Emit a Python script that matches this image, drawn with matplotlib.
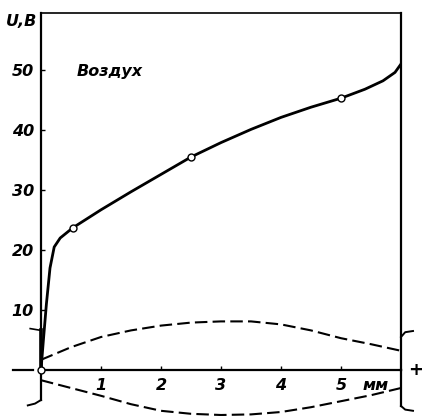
import matplotlib
matplotlib.use('Agg')
import matplotlib.pyplot as plt

# main curve U(d), air gap
d = [0, 0.04, 0.09, 0.15, 0.22, 0.32, 0.53, 1.0, 1.5, 2.0, 2.5, 3.0, 3.5, 4.0, 4.5, 5.0, 5.4, 5.7, 5.9, 6.0]
U = [0, 5, 11, 17, 20.5, 22, 23.7, 26.7, 29.7, 32.6, 35.5, 37.9, 40.1, 42.1, 43.8, 45.3, 46.8, 48.2, 49.6, 51]
meas = [0, 6, 10, 15]  # points drawn as open circles

# dashed field lines above / below the axis
xd = [0, 0.5, 1, 1.5, 2, 2.5, 3, 3.5, 4, 4.5, 5, 5.5, 6]
up = [1.7, 3.8, 5.5, 6.6, 7.4, 7.9, 8.1, 8.1, 7.6, 6.6, 5.3, 4.3, 3.2]
lo = [-1.7, -3.0, -4.3, -5.7, -6.8, -7.3, -7.5, -7.4, -7.0, -6.2, -5.2, -4.2, -3.0]

xt = [1, 2, 3, 4, 5]
yt = [10, 20, 30, 40, 50]

fig = plt.figure(figsize=(4.22, 4.16), dpi=100)
ax = fig.add_axes([41/422, 46/416, 360/422, 357/416])
ax.set_xlim(0, 6)
ax.set_ylim(0, 59.5)

tf = dict(family='DejaVu Sans', style='italic', weight='bold', size=11.5)

ax.plot(d, U, 'k-', lw=2, solid_capstyle='round', zorder=3)
ax.plot([d[i] for i in meas], [U[i] for i in meas], 'o', ms=5, mfc='white', mec='k', mew=1, zorder=4, clip_on=False)
ax.plot(xd, up, 'k--', lw=1.5, dashes=(6, 2.5), clip_on=False)
ax.plot(xd, lo, 'k--', lw=1.5, dashes=(6, 2.5), clip_on=False)

for s in ['left', 'right']:
    ax.spines[s].set_linewidth(1.6)
ax.spines['top'].set_linewidth(1.2)
ax.spines['bottom'].set_linewidth(1.6)

ax.set_xticks(xt)
ax.set_yticks(yt)
ax.set_xticklabels([str(v) for v in xt], **tf)
ax.set_yticklabels([str(v) for v in yt], **tf)
ax.tick_params(direction='in', length=3, width=1, pad=5)
ax.tick_params(axis='x', pad=6)

ax.text(-0.33, 58, 'U,В', ha='center', va='center', **tf)
ax.text(5.57, -2.5, 'мм', ha='center', va='center', **tf)
ax.text(0.6, 49.7, 'Воздух', ha='left', va='center', **tf)

# electrodes
ax.plot([0, 0], [0, -5], 'k-', lw=1.6, clip_on=False)
ax.plot([0, -0.1, -0.22], [-5, -5.6, -5.9], 'k-', lw=1.4, clip_on=False)
ax.plot([0, 0], [0, 6.6], 'k-', lw=2.6, clip_on=False)
ax.plot([0, -0.18], [6.6, 6.9], 'k-', lw=1.2, clip_on=False)
ax.plot([-0.47, -0.13], [0, 0], 'k-', lw=1.6, clip_on=False)
ax.plot([6, 6], [0, -6], 'k-', lw=1.6, clip_on=False)
ax.plot([6, 6.07, 6.2], [5.5, 6.3, 6.5], 'k-', lw=1.4, clip_on=False)
ax.plot([6, 6.07, 6.2], [-6, -6.6, -6.8], 'k-', lw=1.4, clip_on=False)
ax.text(6.25, 0, '+', ha='center', va='center', family='DejaVu Sans', weight='bold', size=13)

fig.savefig('out.png', dpi=100)
